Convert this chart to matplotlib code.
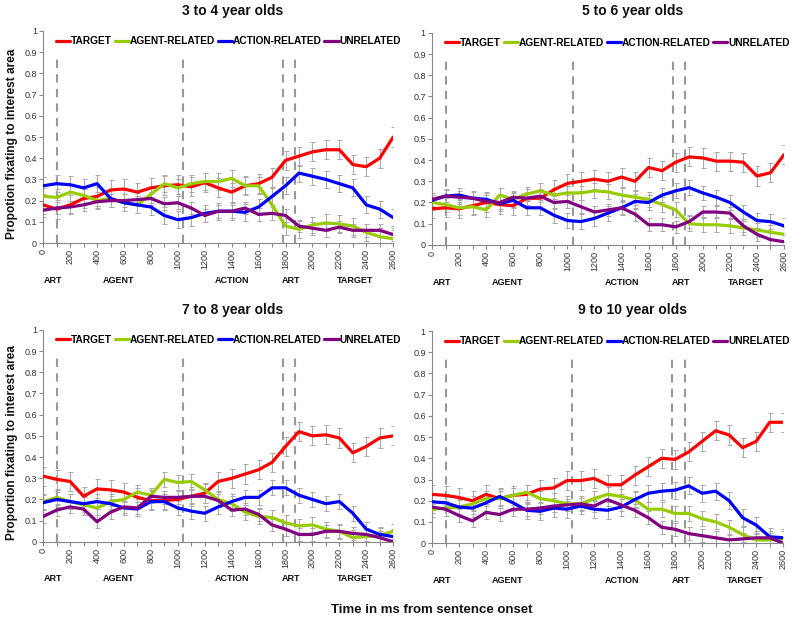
import numpy as np
import matplotlib
matplotlib.use("Agg")
import matplotlib.pyplot as plt

plt.rcParams['font.family'] = ['Liberation Sans', 'DejaVu Sans']

# time axis (ms from sentence onset)
t = np.arange(0, 2601, 100)

series_names = ['TARGET', 'AGENT-RELATED', 'ACTION-RELATED', 'UNRELATED']
colors = ['#FF0000', '#99CC00', '#0000FF', '#800080']

# 3 to 4 year olds
red1 = [0.18, 0.16, 0.18, 0.21, 0.22, 0.25, 0.255, 0.24, 0.26, 0.27, 0.275, 0.265, 0.285, 0.26,
        0.24, 0.27, 0.28, 0.31, 0.39, 0.41, 0.43, 0.44, 0.44, 0.37, 0.36, 0.40, 0.50]
green1 = [0.22, 0.215, 0.24, 0.225, 0.20, 0.21, 0.19, 0.18, 0.23, 0.28, 0.26, 0.28, 0.29, 0.29,
          0.305, 0.27, 0.27, 0.18, 0.08, 0.065, 0.085, 0.095, 0.09, 0.08, 0.05, 0.03, 0.02]
blue1 = [0.27, 0.28, 0.275, 0.26, 0.28, 0.21, 0.19, 0.18, 0.17, 0.13, 0.11, 0.12, 0.14, 0.15,
         0.15, 0.145, 0.17, 0.22, 0.27, 0.33, 0.315, 0.30, 0.28, 0.26, 0.18, 0.16, 0.12]
purple1 = [0.155, 0.165, 0.17, 0.18, 0.195, 0.20, 0.20, 0.205, 0.21, 0.185, 0.19, 0.165, 0.13, 0.15,
           0.15, 0.165, 0.135, 0.14, 0.13, 0.08, 0.07, 0.06, 0.075, 0.06, 0.06, 0.06, 0.04]

# 5 to 6 year olds
red2 = [0.17, 0.175, 0.17, 0.185, 0.20, 0.19, 0.185, 0.22, 0.22, 0.26, 0.29, 0.30, 0.31, 0.30,
        0.32, 0.30, 0.365, 0.35, 0.39, 0.415, 0.41, 0.395, 0.395, 0.39, 0.325, 0.34, 0.425]
green2 = [0.20, 0.19, 0.175, 0.18, 0.165, 0.235, 0.215, 0.24, 0.255, 0.235, 0.245, 0.245, 0.255, 0.25,
          0.235, 0.225, 0.215, 0.19, 0.165, 0.10, 0.095, 0.095, 0.09, 0.08, 0.07, 0.06, 0.05]
blue2 = [0.21, 0.23, 0.235, 0.22, 0.215, 0.195, 0.21, 0.175, 0.175, 0.14, 0.115, 0.11, 0.125, 0.15,
         0.175, 0.205, 0.20, 0.235, 0.255, 0.27, 0.245, 0.225, 0.20, 0.155, 0.115, 0.11, 0.09]
purple2 = [0.215, 0.23, 0.225, 0.22, 0.205, 0.20, 0.225, 0.22, 0.23, 0.20, 0.205, 0.18, 0.155, 0.165,
           0.175, 0.145, 0.095, 0.095, 0.085, 0.11, 0.155, 0.155, 0.15, 0.09, 0.05, 0.025, 0.015]

# 7 to 8 year olds
red3 = [0.31, 0.295, 0.285, 0.215, 0.25, 0.245, 0.235, 0.21, 0.195, 0.195, 0.20, 0.215, 0.23, 0.285,
        0.30, 0.32, 0.34, 0.375, 0.45, 0.52, 0.50, 0.505, 0.49, 0.42, 0.45, 0.49, 0.50]
green3 = [0.19, 0.21, 0.19, 0.175, 0.16, 0.19, 0.20, 0.235, 0.22, 0.295, 0.28, 0.285, 0.245, 0.20,
          0.18, 0.14, 0.12, 0.115, 0.09, 0.075, 0.08, 0.06, 0.05, 0.02, 0.025, 0.03, 0.05]
blue3 = [0.185, 0.20, 0.19, 0.18, 0.19, 0.18, 0.16, 0.155, 0.19, 0.19, 0.16, 0.145, 0.135, 0.165,
         0.19, 0.21, 0.21, 0.255, 0.255, 0.22, 0.20, 0.18, 0.19, 0.135, 0.06, 0.035, 0.025]
purple3 = [0.12, 0.15, 0.165, 0.155, 0.095, 0.14, 0.165, 0.16, 0.215, 0.21, 0.21, 0.215, 0.215, 0.195,
           0.15, 0.155, 0.13, 0.08, 0.06, 0.035, 0.035, 0.05, 0.05, 0.04, 0.035, 0.02, 0.0]

# 9 to 10 year olds
red4 = [0.23, 0.225, 0.215, 0.20, 0.23, 0.21, 0.225, 0.23, 0.255, 0.26, 0.295, 0.295, 0.305, 0.275,
        0.275, 0.32, 0.36, 0.40, 0.395, 0.43, 0.48, 0.53, 0.51, 0.45, 0.48, 0.57, 0.57]
green4 = [0.16, 0.165, 0.17, 0.185, 0.21, 0.21, 0.225, 0.24, 0.21, 0.20, 0.185, 0.185, 0.21, 0.23,
          0.22, 0.205, 0.16, 0.16, 0.14, 0.14, 0.115, 0.10, 0.075, 0.04, 0.015, 0.015, 0.02]
blue4 = [0.195, 0.19, 0.17, 0.165, 0.19, 0.22, 0.19, 0.155, 0.15, 0.165, 0.16, 0.175, 0.16, 0.155,
         0.17, 0.205, 0.235, 0.245, 0.25, 0.27, 0.235, 0.245, 0.20, 0.12, 0.085, 0.03, 0.025]
purple4 = [0.17, 0.16, 0.13, 0.105, 0.145, 0.135, 0.16, 0.16, 0.165, 0.175, 0.18, 0.185, 0.175, 0.205,
           0.18, 0.155, 0.12, 0.075, 0.065, 0.045, 0.035, 0.025, 0.015, 0.02, 0.025, 0.025, 0.0]

# standard errors (approx., per series)
err1 = [0.045, 0.04, 0.04, 0.03]
err2 = [0.045, 0.035, 0.035, 0.03]
err3 = [0.045, 0.035, 0.035, 0.03]
err4 = [0.045, 0.035, 0.04, 0.03]

titles = ['3 to 4 year olds', '5 to 6 year olds', '7 to 8 year olds', '9 to 10 year olds']
ylabels = ['Propotion fixating to interest area', None, 'Proportion fixating to interest area', None]

# word boundaries and region labels
boundaries = [100, 1040, 1780, 1870]
regions = ['ART', 'AGENT', 'ACTION', 'ART', 'TARGET']
region_x = [74, 557, 1404, 1842, 2318]

panels = [
    (red1, green1, blue1, purple1, err1),
    (red2, green2, blue2, purple2, err2),
    (red3, green3, blue3, purple3, err3),
    (red4, green4, blue4, purple4, err4),
]

# axes rectangles in figure fraction [left, bottom, width, height]
rects = [
    [0.054, 0.608, 0.4375, 0.342],
    [0.540, 0.605, 0.440, 0.342],
    [0.054, 0.126, 0.4375, 0.342],
    [0.540, 0.124, 0.439, 0.342],
]
title_x = [0.291, 0.791, 0.291, 0.791]
title_y = [0.982, 0.982, 0.50, 0.50]

fig = plt.figure(figsize=(8, 6.2), dpi=100)

for i, (p, rect) in enumerate(zip(panels, rects)):
    ax = fig.add_axes(rect)
    ax.set_xlim(0, 2600)
    ax.set_ylim(0, 1)

    for b in boundaries:
        ax.plot([b, b], [0, 0.87], color='#999999', lw=1.5, ls=(0, (4, 3)), zorder=1)

    vals = p[:4]
    errs = p[4]
    for v, c, e in zip(vals, colors, errs):
        ax.errorbar(t, v, yerr=e, fmt='none', ecolor='#a8a8a8', elinewidth=0.7,
                    capsize=1.8, capthick=0.7, zorder=2)
    for v, c, name in zip(vals, colors, series_names):
        ax.plot(t, v, color=c, lw=2.3, label=name, zorder=3, solid_capstyle='round')

    ax.spines['top'].set_visible(False)
    ax.spines['right'].set_visible(False)
    ax.spines['left'].set_color('#888888')
    ax.spines['bottom'].set_color('#888888')

    ax.set_yticks(np.arange(0, 1.01, 0.1))
    ax.set_yticklabels(['0'] + ['%.1f' % y for y in np.arange(0.1, 0.95, 0.1)] + ['1'])
    ax.set_xticks(t)
    ax.set_xticklabels([str(x) if x % 200 == 0 else '' for x in t], rotation=90)
    ax.tick_params(axis='both', labelsize=6.5, colors='#888888', labelcolor='#333333',
                   length=3, width=0.8, pad=1.5)

    for lab, xr in zip(regions, region_x):
        ax.text(xr, -0.175, lab, ha='center', va='center', fontsize=6.5,
                fontweight='bold', color='#111111')

    leg = ax.legend(loc='upper left', bbox_to_anchor=(0.025, 0.995), ncol=4, frameon=False,
                    handlelength=1.4, handletextpad=0.1, columnspacing=0.25, borderaxespad=0,
                    prop={'weight': 'bold', 'size': 7.3})

    fig.text(title_x[i], title_y[i], titles[i], ha='center', va='center', fontsize=10,
             fontweight='bold', color='#111111')
    if ylabels[i]:
        fig.text(0.015, rect[1] + rect[3] * 0.47, ylabels[i], rotation=90, ha='center',
                 va='center', fontsize=8.6, fontweight='bold', color='#111111')

fig.text(0.54, 0.016, 'Time in ms from sentence onset', ha='center', va='center',
         fontsize=9.5, fontweight='bold', color='#111111')

fig.savefig('out.png', dpi=100, facecolor='white')
